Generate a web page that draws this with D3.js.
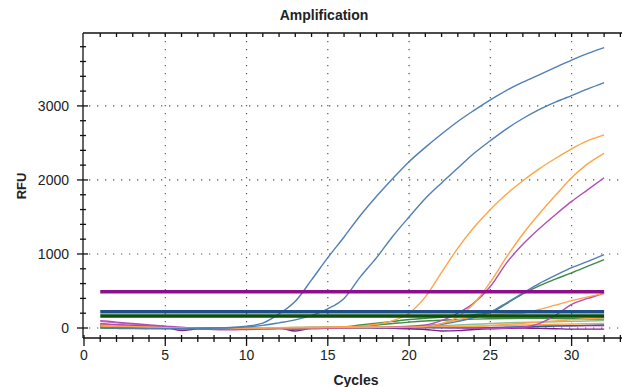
<!DOCTYPE html>
<html>
<head>
<meta charset="utf-8">
<script src="https://cdn.jsdelivr.net/npm/d3@7"></script>
<style>
  body { margin: 0; background: #fff; }
  svg { display: block; font-family: "Liberation Sans", Arial, sans-serif; }
</style>
</head>
<body>
<div id="chart"></div>
<script>
// cycles and RFU readings
var cycles = d3.range(1, 33);

var blueA   = [8,2,-3,-6,-8,-6,-4,0,6,25,65,190,360,650,950,1230,1520,1780,2020,2247,2440,2620,2790,2940,3081,3210,3320,3420,3520,3620,3710,3788];
var blueB   = [4,0,-4,-8,-10,-8,-5,-2,3,15,35,70,110,170,260,400,690,950,1240,1500,1750,1960,2160,2360,2530,2690,2830,2950,3050,3140,3230,3315];
var orangeA = [40,28,18,10,5,0,-4,-5,-2,0,3,5,8,10,14,18,25,50,100,200,420,750,1080,1360,1600,1810,1990,2150,2290,2420,2530,2608];
var orangeB = [20,15,10,5,2,0,-2,-3,-2,0,0,2,3,4,5,5,6,8,10,12,20,60,150,330,620,960,1270,1540,1790,2030,2220,2360];
var purpleC = [100,80,60,40,25,10,-10,-20,-25,-20,-15,-10,-20,-10,-5,0,5,8,15,25,40,100,200,340,560,880,1130,1340,1530,1710,1870,2030];
var blueC   = [30,20,10,2,-3,-5,-3,0,2,3,4,3,2,0,0,0,0,2,5,10,25,50,90,140,215,340,470,600,710,815,900,990];
var greenC  = [10,5,0,-5,-5,-3,0,0,0,2,3,4,5,6,8,15,40,65,90,115,130,145,160,180,210,330,460,570,660,745,835,925];
var orangeC = [30,22,15,10,5,0,0,-2,-3,0,2,3,4,5,5,6,8,10,12,15,30,60,110,150,175,190,200,250,310,370,420,470];
var purpleD = [60,45,30,20,10,0,-10,-15,-10,-5,0,0,-5,0,0,2,4,5,5,5,6,5,3,0,-5,0,10,60,170,320,400,470];
var orangeD = [15,10,8,5,3,0,-5,-8,-5,0,0,2,3,3,4,5,5,6,8,10,12,15,18,20,35,50,65,80,95,110,125,140];
var greenD  = [0,-5,-8,-5,0,5,0,-5,-3,0,2,4,6,8,10,15,25,40,60,80,95,105,115,120,125,128,130,130,128,125,122,120];
var greenE  = [20,10,5,0,-5,-10,-5,0,0,-5,-10,-5,0,0,2,4,6,8,10,15,20,30,40,50,60,70,75,80,85,90,95,100];
var blueD   = [10,5,0,-5,-5,-3,0,0,-2,-3,-2,0,0,0,2,3,4,4,5,5,5,4,3,2,5,10,15,20,25,30,35,40];
var purpleE = [50,40,30,20,10,-35,-10,0,-5,-10,-5,0,-40,-5,0,5,5,0,-5,-10,-20,-40,-35,-20,-10,-5,0,-5,-10,-15,-15,-15];
var pinkF   = [90,70,50,35,20,-20,-5,5,0,-5,-3,0,-10,0,5,5,0,-5,0,5,10,10,5,0,5,10,20,25,30,30,30,30];
var orangeE = [5,0,0,-2,-5,-5,0,0,2,0,-2,0,2,4,5,5,4,2,0,5,10,15,20,25,30,35,40,45,50,55,58,60];

var series = [
  {name: "orangeE", color: "#ffa448", values: orangeE},
  {name: "pinkF",   color: "#d070d0", values: pinkF},
  {name: "greenE",  color: "#8fbf8f", values: greenE},
  {name: "blueD",   color: "#2c5d99", values: blueD},
  {name: "purpleE", color: "#7a1e88", values: purpleE},
  {name: "greenD",  color: "#3f8a44", values: greenD},
  {name: "orangeD", color: "#ffa448", values: orangeD},
  {name: "purpleD", color: "#b34db8", values: purpleD},
  {name: "orangeC", color: "#ffa448", values: orangeC},
  {name: "greenC",  color: "#3f8a44", values: greenC},
  {name: "blueC",   color: "#4f7fb5", values: blueC},
  {name: "purpleC", color: "#b34db8", values: purpleC},
  {name: "orangeB", color: "#ffa448", values: orangeB},
  {name: "orangeA", color: "#ffa448", values: orangeA},
  {name: "blueB",   color: "#4f7fb5", values: blueB},
  {name: "blueA",   color: "#4f7fb5", values: blueA}
];

// threshold lines
var thresholds = [
  {value: 490, color: "#8e0f8e"},
  {value: 220, color: "#1d4f8c"},
  {value: 162, color: "#0c4d0c"}
];

var xTicks = [0, 5, 10, 15, 20, 25, 30];
var yTicks = [0, 1000, 2000, 3000];

var width = 622, height = 387;
var margin = {top: 33, right: 0, bottom: 49, left: 84};

var svg = d3.select("#chart").append("svg")
  .attr("width", width)
  .attr("height", height);

var x = d3.scaleLinear().domain([0, 33.1]).range([margin.left, width - margin.right]);
var y = d3.scaleLinear().domain([-135, 3985]).range([height - margin.bottom, margin.top]);

var x0 = margin.left - 1, yb = height - margin.bottom;

// dotted grid
var grid = svg.append("g").attr("stroke", "#555").attr("stroke-width", 1.2)
  .attr("stroke-dasharray", "1.3,6.7");
grid.selectAll("line.v").data(xTicks.slice(1)).enter().append("line")
  .attr("x1", d => x(d)).attr("x2", d => x(d))
  .attr("y1", margin.top).attr("y2", yb);
grid.selectAll("line.h").data(yTicks).enter().append("line")
  .attr("x1", x0 + 6).attr("x2", width)
  .attr("y1", d => y(d)).attr("y2", d => y(d));

// amplification curves
var clip = svg.append("clipPath").attr("id", "clip").append("rect")
  .attr("x", x0).attr("y", margin.top).attr("width", width - x0).attr("height", yb - margin.top);

var line = d3.line()
  .curve(d3.curveMonotoneX)
  .x((d, i) => x(cycles[i]))
  .y(d => y(d));

var plot = svg.append("g").attr("clip-path", "url(#clip)");
plot.selectAll("path.curve").data(series).enter().append("path")
  .attr("class", "curve")
  .attr("fill", "none")
  .attr("stroke", d => d.color)
  .attr("stroke-width", 1.4)
  .attr("d", d => line(d.values));

plot.selectAll("line.thr").data(thresholds).enter().append("line")
  .attr("x1", x(cycles[0])).attr("x2", x(cycles[cycles.length - 1]))
  .attr("y1", d => y(d.value)).attr("y2", d => y(d.value))
  .attr("stroke", d => d.color)
  .attr("stroke-width", 3.5);

// axes frame
var ax = svg.append("g").attr("stroke", "#111").attr("stroke-width", 1.3);
ax.append("line").attr("x1", x0).attr("x2", width).attr("y1", margin.top).attr("y2", margin.top);
ax.append("line").attr("x1", x0).attr("x2", width).attr("y1", yb).attr("y2", yb);
ax.append("line").attr("x1", x0).attr("x2", x0).attr("y1", margin.top).attr("y2", yb);

var xMinor = d3.range(1, 34).filter(d => d % 5 !== 0);
ax.selectAll("line.xm").data(xMinor).enter().append("line")
  .attr("x1", d => x(d)).attr("x2", d => x(d))
  .attr("y1", yb - 3).attr("y2", yb + 4);
ax.selectAll("line.xM").data(xTicks).enter().append("line")
  .attr("x1", d => x(d)).attr("x2", d => x(d))
  .attr("y1", yb - 3).attr("y2", yb + 8);
ax.selectAll("line.xt").data(d3.range(1, 34)).enter().append("line")
  .attr("x1", d => x(d)).attr("x2", d => x(d))
  .attr("y1", margin.top).attr("y2", margin.top + 4);

var yMinor = d3.range(200, 3900, 200).filter(d => d % 1000 !== 0);
ax.selectAll("line.ym").data(yMinor).enter().append("line")
  .attr("x1", x0 - 3).attr("x2", x0 + 3)
  .attr("y1", d => y(d)).attr("y2", d => y(d));
ax.selectAll("line.yM").data(yTicks).enter().append("line")
  .attr("x1", x0 - 6).attr("x2", x0 + 5)
  .attr("y1", d => y(d)).attr("y2", d => y(d));

// tick labels
svg.selectAll("text.xl").data(xTicks).enter().append("text")
  .attr("x", d => x(d)).attr("y", yb + 22)
  .attr("text-anchor", "middle").attr("font-size", 14).attr("fill", "#222")
  .text(d => d);
svg.selectAll("text.yl").data(yTicks).enter().append("text")
  .attr("x", x0 - 14).attr("y", d => y(d) + 5)
  .attr("text-anchor", "end").attr("font-size", 14).attr("fill", "#222")
  .text(d => d);

// titles
svg.append("text").attr("x", 324).attr("y", 20)
  .attr("text-anchor", "middle").attr("font-size", 14).attr("font-weight", "bold").attr("fill", "#222")
  .text("Amplification");
svg.append("text").attr("x", 356).attr("y", 385)
  .attr("text-anchor", "middle").attr("font-size", 14).attr("font-weight", "bold").attr("fill", "#222")
  .text("Cycles");
svg.append("text").attr("transform", "translate(26,186) rotate(-90)")
  .attr("text-anchor", "middle").attr("font-size", 13).attr("font-weight", "bold").attr("fill", "#222")
  .text("RFU");
</script>
</body>
</html>
